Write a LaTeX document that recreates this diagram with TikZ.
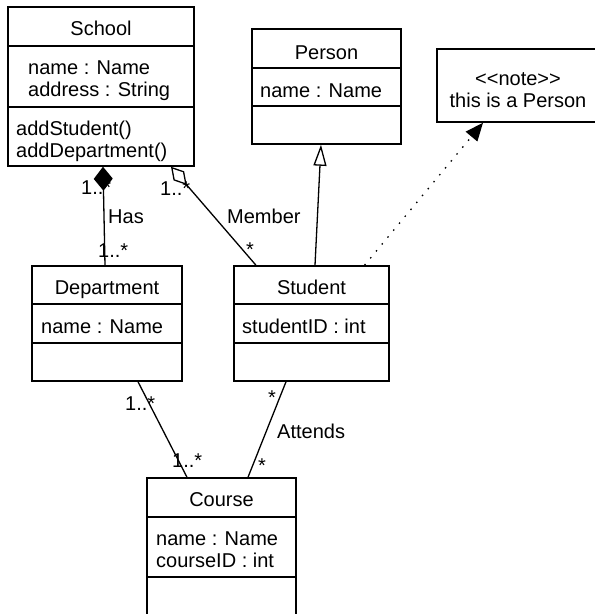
\documentclass[tikz,border=0pt]{standalone}
\usepackage{fontspec}
\setmainfont{Liberation Sans}
\usetikzlibrary{arrows.meta}

\begin{document}
\begin{tikzpicture}[x=1pt,y=-1pt,
    every node/.style={inner sep=0pt,font=\fontsize{20}{22}\selectfont},
    classbox/.style={draw,line width=1.5pt},
    divider/.style={line width=1.5pt},
    title/.style={anchor=base},
    member/.style={anchor=base west},
    lbl/.style={anchor=base west},
    mult/.style={anchor=base},
    assoc/.style={line width=1.3pt},
    depend/.style={line width=1.3pt,dash pattern=on 1.5pt off 7.5pt}]
      \useasboundingbox (0,0) rectangle (595,614);
      \node[classbox,minimum width=186pt,minimum height=159pt] (school) at (101,86.5) {};
      \draw[divider] (8,46) -- (194,46);
      \draw[divider] (8,107) -- (194,107);
      \node[title] (schoolname) at (101,35) {School};
      \node[member] (schoolattr1) at (28,74) {name : Name};
      \node[member] (schoolattr2) at (28,96) {address : String};
      \node[member] (schoolop1) at (16,135) {addStudent()};
      \node[member] (schoolop2) at (16,157) {addDepartment()};

      \node[classbox,minimum width=149pt,minimum height=115pt] (person) at (326.5,86.5) {};
      \draw[divider] (252,68) -- (401,68);
      \draw[divider] (252,106) -- (401,106);
      \node[title] (personname) at (326.5,59) {Person};
      \node[member] (personattr1) at (260,97) {name : Name};

      \node[classbox,minimum width=162pt,minimum height=73pt] (note) at (518,85.5) {};
      \node[title] (notetype) at (518,85) {<{}<note>{}>};
      \node[title] (notetext) at (518,107) {this is a Person};

      \node[classbox,minimum width=150pt,minimum height=115pt] (dept) at (107,323.5) {};
      \draw[divider] (32,304) -- (182,304);
      \draw[divider] (32,343) -- (182,343);
      \node[title] (deptname) at (107,294) {Department};
      \node[member] (deptattr1) at (41,333) {name : Name};

      \node[classbox,minimum width=155pt,minimum height=115pt] (student) at (311.5,323.5) {};
      \draw[divider] (234,304) -- (389,304);
      \draw[divider] (234,343) -- (389,343);
      \node[title] (studentname) at (311.5,294) {Student};
      \node[member] (studentattr1) at (242,333) {studentID : int};

      \node[classbox,minimum width=149pt,minimum height=142pt] (course) at (221.5,549) {};
      \draw[divider] (147,517) -- (296,517);
      \draw[divider] (147,577) -- (296,577);
      \node[title] (coursename) at (221.5,506) {Course};
      \node[member] (courseattr1) at (156,545) {name : Name};
      \node[member] (courseattr2) at (156,567) {courseID : int};

      \node[lbl] (hasfrom) at (81,194) {1..*};
      \node[lbl] (has) at (108,223) {Has};
      \node[lbl] (hasto) at (98,257) {1..*};
      \node[lbl] (memberfrom) at (160,195) {1..*};
      \node[lbl] (memberlbl) at (227,223) {Member};
      \node[mult] (memberto) at (250,256) {*};
      \node[lbl] (teachfrom) at (125,410) {1..*};
      \node[lbl] (teachto) at (172,467) {1..*};
      \node[mult] (attendfrom) at (272,404) {*};
      \node[lbl] (attends) at (277,438) {Attends};
      \node[mult] (attendto) at (262,472) {*};

      \draw[assoc,{Diamond[length=24pt,width=19pt]}-] ([xshift=2pt]school.south) -- ([xshift=-2pt]dept.north);
      \draw[assoc,{Diamond[open,length=24pt,width=14pt]}-] ([xshift=70pt]school.south) -- ([xshift=-55.5pt]student.north);
      \draw[assoc,-{Triangle[open,length=21pt,width=13pt]}] ([xshift=3.5pt]student.north) -- ([xshift=-5.5pt]person.south);
      \draw[depend,-{Triangle[length=18pt,width=15pt]}] ([xshift=53pt]student.north) -- ([xshift=-35pt]note.south);
      \draw[assoc] ([xshift=31pt]dept.south) -- ([xshift=-34.5pt]course.north);
      \draw[assoc] ([xshift=-25.5pt]student.south) -- ([xshift=26.5pt]course.north);
    \end{tikzpicture}
\end{document}
